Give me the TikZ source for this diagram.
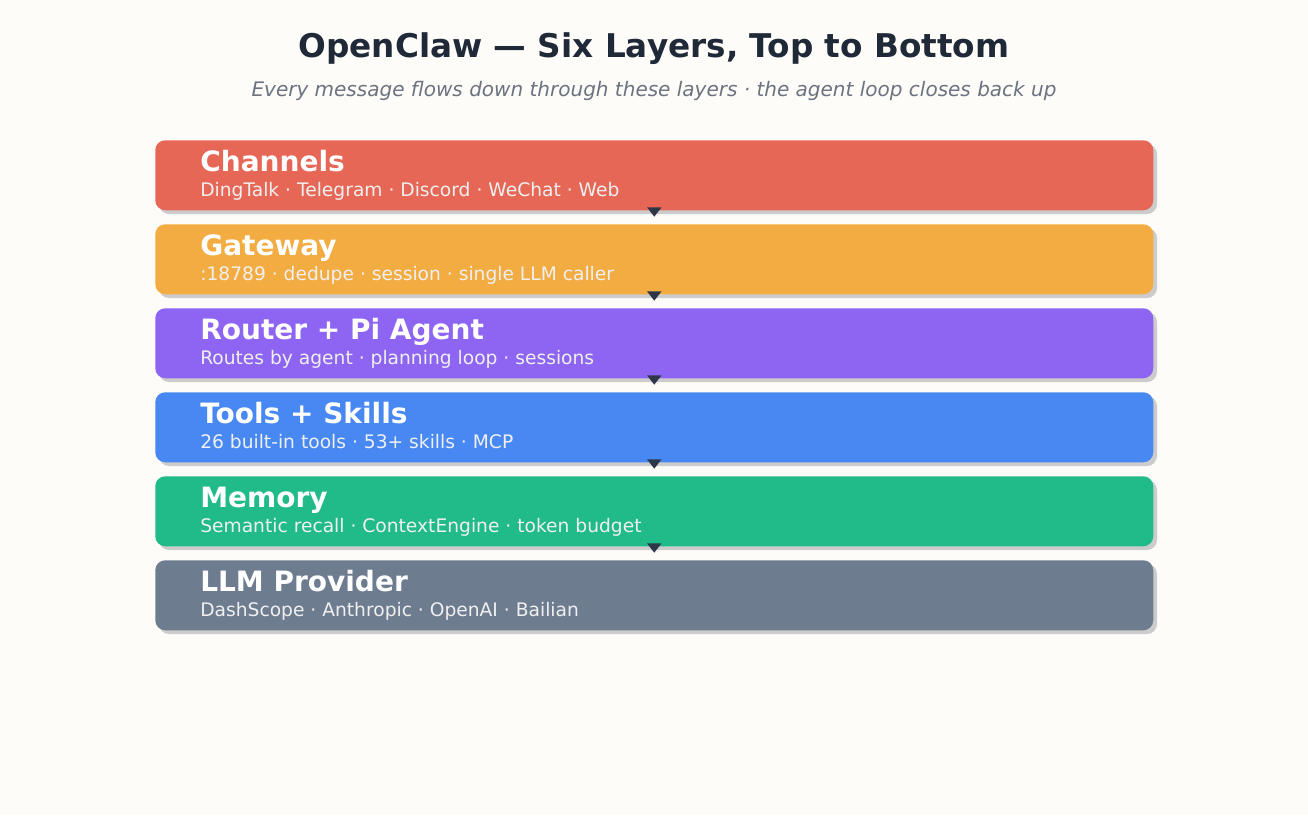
\documentclass[tikz,border=0pt]{standalone}
\usepackage{fontspec}
\setmainfont{DejaVu Sans}
\usetikzlibrary{arrows.meta}
\definecolor{bg}{HTML}{FEFCF8}
\definecolor{ink}{HTML}{1F2937}
\definecolor{sub}{HTML}{6B7280}
\definecolor{arr}{HTML}{2D3748}
\definecolor{c1}{HTML}{E76757}
\definecolor{c2}{HTML}{F2AC42}
\definecolor{c3}{HTML}{8E65F2}
\definecolor{c4}{HTML}{4888F2}
\definecolor{c5}{HTML}{20BB88}
\definecolor{c6}{HTML}{6E7C8F}
\tikzset{
  layer/.style={rounded corners=7.5pt, minimum width=748.5pt, minimum height=52.5pt, inner sep=0pt, anchor=north west},
  shadowbox/.style={rounded corners=7.5pt, fill=black!20},
  ltitle/.style={anchor=base west, inner sep=0pt, text=white, font=\bfseries\fontsize{21}{25}\selectfont},
  lsub/.style={anchor=base west, inner sep=0pt, text=white!94!black, font=\fontsize{14}{17}\selectfont},
  flow/.style={draw=arr, line width=1.5pt, -{Triangle[width=10.5pt,length=7pt]}}
}
\begin{document}
\begin{tikzpicture}[x=0.75pt,y=-0.75pt]
\fill[bg] (0,0) rectangle (1308,815);
\useasboundingbox (0,0) rectangle (1308,815);
\node[anchor=base, inner sep=0pt, text=ink, font=\bfseries\fontsize{24.5}{29}\selectfont] (title) at (654,57) {OpenClaw — Six Layers, Top to Bottom};
\node[anchor=base, inner sep=0pt, text=sub, font=\itshape\fontsize{15}{18}\selectfont] (subtitle) at (654,96) {Every message flows down through these layers · the agent loop closes back up};
\foreach \i/\c/\t/\s in {1/c1/Channels/{DingTalk · Telegram · Discord · WeChat · Web},
  2/c2/Gateway/{:18789 · dedupe · session · single LLM caller},
  3/c3/Router + Pi Agent/{Routes by agent · planning loop · sessions},
  4/c4/Tools + Skills/{26 built-in tools · 53+ skills · MCP},
  5/c5/Memory/{Semantic recall · ContextEngine · token budget},
  6/c6/LLM Provider/{DashScope · Anthropic · OpenAI · Bailian}}{
  \pgfmathsetmacro\yy{140+84*(\i-1)}
  \fill[shadowbox] (159,\yy+4) rectangle ++(998,70);
  \node[layer, fill=\c] (L\i) at (155,\yy) {};
  \node[ltitle] (T\i) at (200,\yy+31) {\t};
  \node[lsub] (S\i) at (200,\yy+56) {\s};
}
\foreach \a/\b in {1/2,2/3,3/4,4/5,5/6}{
  \draw[flow, shorten <=-3pt, shorten >=5.5pt] (L\a.south) -- (L\b.north);
}
\end{tikzpicture}
\end{document}
